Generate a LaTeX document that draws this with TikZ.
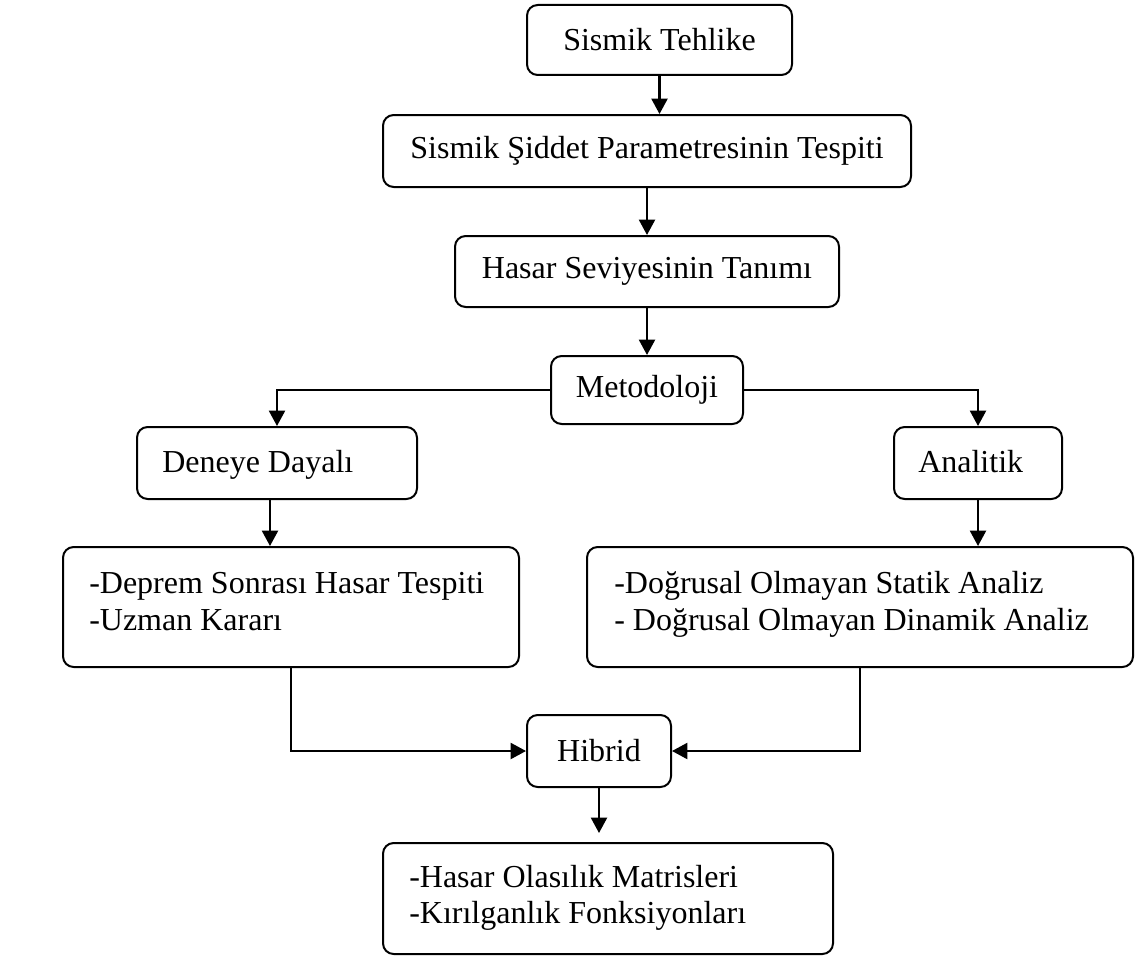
\documentclass[tikz,border=0pt]{standalone}
\usepackage{fontspec}
\setmainfont{Liberation Serif}
\usetikzlibrary{arrows.meta}
\begin{document}
\begin{tikzpicture}[x=0.75pt,y=-0.75pt,
  box/.style={draw, line width=1.5pt, rounded corners=8pt, inner sep=0pt,
    font=\fontsize{24}{28}\selectfont},
  wh/.style 2 args={minimum width=#1*0.75pt, minimum height=#2*0.75pt},
  txt/.style={inner sep=0pt, anchor=base west, font=\fontsize{24}{28}\selectfont},
  arr/.style={line width=1.6pt, -{Triangle[length=11.5pt,width=12pt]}}]
\useasboundingbox (0,0) rectangle (1138,956);

% boxes
\node[box, wh={265}{70}]  (n1) at (659.5,40)  {Sismik Tehlike};
\node[box, wh={528}{72}]  (n2) at (647,151)   {Sismik Şiddet Parametresinin Tespiti};
\node[box, wh={384}{71}]  (n3) at (647,271.5) {Hasar Seviyesinin Tanımı};
\node[box, wh={192}{68}]  (n4) at (647,390)   {Metodoloji};
\node[box, wh={280}{72}]  (n5) at (277,463)   {};
\node[box, wh={456}{120}] (n6) at (291,607)   {};
\node[box, wh={168}{72}]  (n7) at (978,463)   {};
\node[box, wh={546}{120}] (n8) at (860,607)   {};
\node[box, wh={144}{72}]  (n9) at (599,751)   {Hibrid};
\node[box, wh={450}{111}] (n10) at (608,898.5) {};

% texts
\node[txt] (t5)  at (162,472) {Deneye Dayalı};
\node[txt] (t7)  at (918,472) {Analitik};
\node[txt] (t6a) at (89,593)  {-Deprem Sonrası Hasar Tespiti};
\node[txt] (t6b) at (89,630)  {-Uzman Kararı};
\node[txt] (t8a) at (614,593) {-Doğrusal Olmayan Statik Analiz};
\node[txt] (t8b) at (614,630) {- Doğrusal Olmayan Dinamik Analiz};
\node[txt] (t10a) at (409,887) {-Hasar Olasılık Matrisleri};
\node[txt] (t10b) at (409,923) {-Kırılganlık Fonksiyonları};

% connectors
\draw[arr] (n1.south) -- (n1.south |- n2.north);
\draw[arr] (n2.south) -- (n3.north);
\draw[arr] (n3.south) -- (n4.north);
\draw[arr] (n4.west) -| (n5.north);
\draw[arr] (n4.east) -| (n7.north);
\draw[arr] ([xshift=-5.25pt]n5.south) -- ([xshift=-5.25pt]n5.south |- n6.north);
\draw[arr] (n7.south) -- (n7.south |- n8.north);
\draw[arr] (n6.south) |- (n9.west);
\draw[arr] (n8.south) |- (n9.east);
\draw[arr, shorten >=6.75pt] (n9.south) -- (n9.south |- n10.north);
\end{tikzpicture}
\end{document}
